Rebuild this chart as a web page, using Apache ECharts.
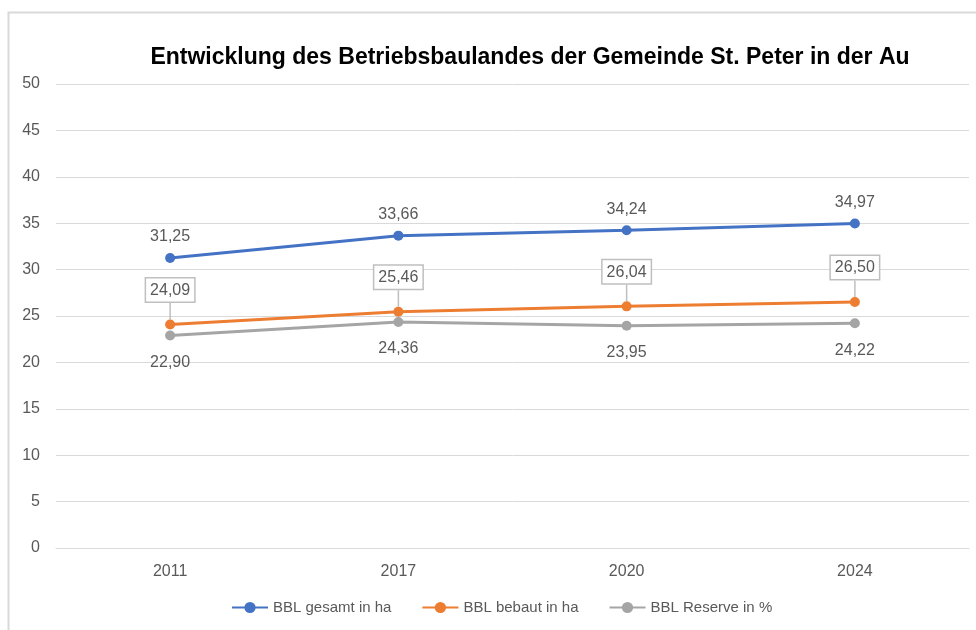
<!DOCTYPE html>
<html>
<head>
<meta charset="utf-8">
<script src="https://cdn.jsdelivr.net/npm/echarts@6/dist/echarts.min.js"></script>
<style>
  html, body { margin: 0; padding: 0; background: #fff; }
  #main { width: 976px; height: 630px; }
</style>
</head>
<body>
<div id="main"></div>
<script>
const years = ['2011', '2017', '2020', '2024'];
const gesamt = [31.25, 33.66, 34.24, 34.97];
const bebaut = [24.09, 25.46, 26.04, 26.50];
const reserve = [22.90, 24.36, 23.95, 24.22];

const font = "'Liberation Sans', Arial, sans-serif";
const txt = '#595959';
const fmt = p => p.value.toFixed(2).replace('.', ',');

const chart = echarts.init(document.getElementById('main'));

const option = {
	animation: false,
	color: ['#4472C4', '#ED7D31', '#A5A5A5'],
	graphic: [{
		type: 'rect',
		shape: {x: 8.5, y: 12.5, width: 1000, height: 700},
		style: {fill: 'none', stroke: '#d9d9d9', lineWidth: 2},
		silent: true
	}],
	title: {
		text: 'Entwicklung des Betriebsbaulandes der Gemeinde St. Peter in der Au',
		left: 525, top: 41, textAlign: 'center',
		textStyle: {fontFamily: font, fontWeight: 'bold', fontSize: 23, color: '#000'}
	},
	legend: {
		bottom: 10,
		left: 226,
		itemWidth: 36,
		itemGap: 30,
		textStyle: {fontFamily: font, fontSize: 15, color: txt},
		data: ['BBL gesamt in ha', 'BBL bebaut in ha', 'BBL Reserve in %']
	},
	grid: {left: 56, right: 7, top: 84, bottom: 82},
	xAxis: {
		type: 'category',
		data: years,
		axisTick: {show: false},
		axisLine: {lineStyle: {color: '#d9d9d9'}},
		axisLabel: {margin: 16, fontFamily: font, fontSize: 16, color: txt}
	},
	yAxis: {
		type: 'value',
		min: 0, max: 50, interval: 5,
		axisLabel: {margin: 16, fontFamily: font, fontSize: 16, color: txt},
		splitLine: {lineStyle: {color: '#d9d9d9'}}
	},
	series: [
		{
			name: 'BBL gesamt in ha',
			type: 'line',
			data: gesamt,
			symbol: 'circle', symbolSize: 10,
			lineStyle: {width: 3},
			label: {show: true, position: 'top', distance: 8, formatter: fmt, fontFamily: font, fontSize: 16, color: txt}
		},
		{
			name: 'BBL bebaut in ha',
			type: 'line',
			data: bebaut,
			symbol: 'circle', symbolSize: 10,
			lineStyle: {width: 3},
			label: {
				show: true, position: 'top', distance: 8, formatter: fmt,
				fontFamily: font, fontSize: 16, color: txt,
				backgroundColor: '#fff', borderColor: '#bfbfbf', borderWidth: 1.5,
				padding: [4, 4, 3, 4]
			},
			labelLayout: {dy: -10},
			labelLine: {show: true, lineStyle: {color: '#bfbfbf', width: 1.5}}
		},
		{
			name: 'BBL Reserve in %',
			type: 'line',
			data: reserve,
			symbol: 'circle', symbolSize: 10,
			lineStyle: {width: 3},
			label: {show: true, position: 'bottom', distance: 14, formatter: fmt, fontFamily: font, fontSize: 16, color: txt}
		}
	]
};

chart.setOption(option);
</script>
</body>
</html>
